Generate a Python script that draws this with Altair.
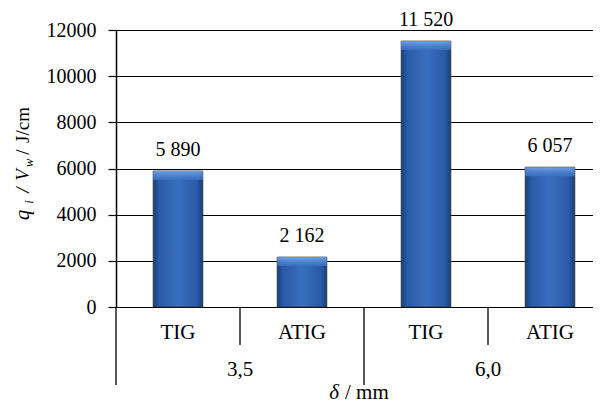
import altair as alt
import pandas as pd

# ---- data ----
methods = ["TIG", "ATIG", "TIG", "ATIG"]
thickness = ["3,5", "3,5", "6,0", "6,0"]
values = [5890, 2162, 11520, 6057]
value_labels = ["5 890", "2 162", "11 520", "6 057"]
groups = ["3,5", "6,0"]
y_ticks = [0, 2000, 4000, 6000, 8000, 10000, 12000]

# ---- layout ----
W, H = 477, 277
PX_PER_CAT = 124
XMAX = W / PX_PER_CAT
SERIF = "Liberation Serif, Times New Roman, serif"
FS = 20
BEVEL = 12000 * 9 / H  # top bevel height in data units (~9 px)

df = pd.DataFrame({"method": methods, "group": thickness,
                   "value": values, "label": value_labels})
df["pos"] = [i + 0.5 for i in range(len(df))]
df["lo"] = df["pos"] - 0.2
df["hi"] = df["pos"] + 0.2
df["bev"] = df["value"] - BEVEL

xs = alt.Scale(domain=[0, XMAX], nice=False, zero=False, padding=0)
ys = alt.Scale(domain=[0, 12000], nice=False, padding=0)

base = alt.Chart(df)

grad = alt.Gradient(
    gradient="linear", x1=0, x2=1, y1=0, y2=0,
    stops=[alt.GradientStop(color="#173f7a", offset=0),
           alt.GradientStop(color="#2a5ba8", offset=0.12),
           alt.GradientStop(color="#3a6ebf", offset=0.5),
           alt.GradientStop(color="#2a5ba8", offset=0.88),
           alt.GradientStop(color="#173f7a", offset=1)])

grad_top = alt.Gradient(
    gradient="linear", x1=0, x2=0, y1=0, y2=1,
    stops=[alt.GradientStop(color="#7aa8e8", offset=0),
           alt.GradientStop(color="#4f83cf", offset=0.6),
           alt.GradientStop(color="#3a6ebf", offset=1)])

bars = base.mark_bar(fill=grad, stroke="#2b2b2b", strokeWidth=0.8).encode(
    x=alt.X("lo:Q", scale=xs, axis=None),
    x2="hi:Q",
    y=alt.Y("value:Q", scale=ys,
            axis=alt.Axis(values=y_ticks, format="d", grid=True,
                          gridColor="black", gridWidth=1, gridOpacity=1,
                          domainColor="black", domainWidth=1.5,
                          tickColor="black", tickSize=8, tickWidth=1.2,
                          labelFont=SERIF, labelFontSize=FS,
                          labelColor="black", labelPadding=12, title=None)),
    y2=alt.datum(0),
)

bevel = base.mark_bar(fill=grad_top, opacity=0.85).encode(
    x=alt.X("lo:Q", scale=xs, axis=None),
    x2="hi:Q",
    y=alt.Y("value:Q", scale=ys),
    y2="bev:Q",
)

value_text = base.mark_text(font=SERIF, fontSize=FS, color="black",
                            dy=-21, baseline="middle").encode(
    x=alt.X("pos:Q", scale=xs, axis=None),
    y=alt.Y("value:Q", scale=ys),
    text="label:N",
)

method_text = base.mark_text(font=SERIF, fontSize=FS + 1, color="black",
                             baseline="middle").encode(
    x=alt.X("pos:Q", scale=xs, axis=None),
    y=alt.value(H + 26),
    text="method:N",
)

sep_df = pd.DataFrame({"p": [1.0, 3.0]})
sep_rules = alt.Chart(sep_df).mark_rule(color="black", strokeWidth=1.3).encode(
    x=alt.X("p:Q", scale=xs, axis=None), y=alt.value(H), y2=alt.value(H + 38))

grp_df = pd.DataFrame({"p": [0.0, 2.0]})
grp_rules = alt.Chart(grp_df).mark_rule(color="black", strokeWidth=1.3).encode(
    x=alt.X("p:Q", scale=xs, axis=None), y=alt.value(H), y2=alt.value(H + 78))

glab_df = pd.DataFrame({"g": groups, "p": [1.0, 3.0]})
group_text = alt.Chart(glab_df).mark_text(font=SERIF, fontSize=FS + 1, color="black",
                                          baseline="middle").encode(
    x=alt.X("p:Q", scale=xs, axis=None), y=alt.value(H + 63), text="g:N")

# x-axis title
XT_BASE = H + 92
xt1 = alt.Chart(pd.DataFrame({"t": ["δ"]})).mark_text(
    font=SERIF, fontSize=FS + 1, fontStyle="italic", color="black",
    align="center", baseline="alphabetic").encode(
    x=alt.value(218), y=alt.value(XT_BASE), text="t:N")
xt2 = alt.Chart(pd.DataFrame({"t": ["/ mm"]})).mark_text(
    font=SERIF, fontSize=FS + 1, color="black",
    align="left", baseline="alphabetic").encode(
    x=alt.value(229), y=alt.value(XT_BASE), text="t:N")

# y-axis title built from pieces (rotated)
YX = -87
pieces = [
    ("q", 21, "italic", 185, 0),
    ("i", 13, "italic", 172, 4),
    ("/", 19, "italic", 160, 0),
    ("V", 19, "italic", 145, 0),
    ("w", 13, "italic", 133, 4),
    ("/", 19, "normal", 122, 0),
    ("J/cm", 19, "normal", 95, 0),
]
ytitle_layers = []
for txt, size, style, yc, shift in pieces:
    ytitle_layers.append(
        alt.Chart(pd.DataFrame({"t": [txt]})).mark_text(
            font=SERIF, fontSize=size, fontStyle=style, color="black",
            angle=270, align="center", baseline="alphabetic").encode(
            x=alt.value(YX + shift), y=alt.value(yc), text="t:N"))

chart = alt.layer(
    bars, bevel, value_text, method_text, sep_rules, grp_rules, group_text,
    xt1, xt2, *ytitle_layers
).properties(
    width=W, height=H,
    autosize=alt.AutoSizeParams(type="none"),
    padding={"left": 108, "top": 22, "right": 0, "bottom": 96},
    background="white",
).configure_view(stroke=None)

chart.save("out.html", embed_options={"renderer": "svg", "actions": False})
